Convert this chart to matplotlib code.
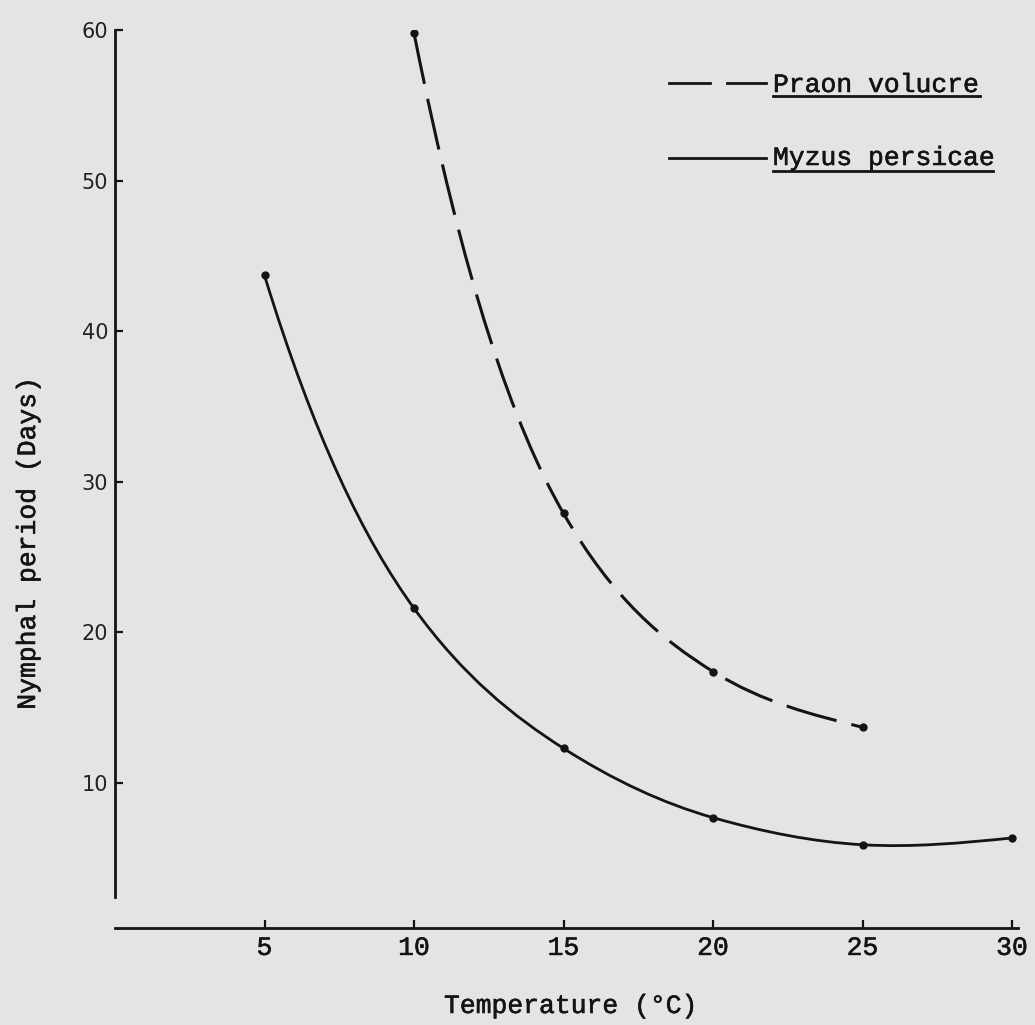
import numpy as np
import matplotlib.pyplot as plt
import matplotlib.patheffects as pe
from matplotlib.path import Path
from matplotlib.patches import PathPatch
from matplotlib.lines import Line2D

# temperatura (graus C) e periodo ninfal (dias)
temp_praon = [10, 15, 20, 25]
dias_praon = [59.8, 27.9, 17.4, 13.7]
temp_myzus = [5, 10, 15, 20, 25, 30]
dias_myzus = [43.7, 21.6, 12.3, 7.7, 5.9, 6.35]

xticks = [5, 10, 15, 20, 25, 30]
yticks = [10, 20, 30, 40, 50, 60]

tinta = '#141414'
papel = '#e4e4e2'
mono = 'Liberation Mono'
grosso = [pe.withStroke(linewidth=0.4, foreground=tinta)]  # tipo de maquina um pouco mais carregado


def curva_suave(x, y):
    # caminho bezier passando pelos pontos; tangentes estimadas em log(y)
    x = np.asarray(x, float)
    y = np.asarray(y, float)
    ly = np.log(y)
    d = np.diff(ly) / np.diff(x)
    m = np.zeros_like(ly)
    m[1:-1] = (ly[2:] - ly[:-2]) / (x[2:] - x[:-2])
    m[0] = (3 * d[0] - m[1]) / 2
    m[-1] = (3 * d[-1] - m[-2]) / 2
    m = m * y  # derivada em escala linear
    verts = [(x[0], y[0])]
    codes = [Path.MOVETO]
    for i in range(len(x) - 1):
        h = x[i + 1] - x[i]
        verts += [(x[i] + h / 3, y[i] + m[i] * h / 3),
                  (x[i + 1] - h / 3, y[i + 1] - m[i + 1] * h / 3),
                  (x[i + 1], y[i + 1])]
        codes += [Path.CURVE4] * 3
    return Path(verts, codes)


fig = plt.figure(figsize=(10.35, 10.25), dpi=100, facecolor=papel)
ax = fig.add_axes([115 / 1035, 1 - 933.6 / 1025, 903 / 1035, 903.6 / 1025])
ax.set_facecolor(papel)
ax.set_xlim(0, 30.2)
ax.set_ylim(0, 60)

# curvas
ax.add_patch(PathPatch(curva_suave(temp_praon, dias_praon), fill=False,
                       edgecolor=tinta, lw=2.2, linestyle=(0, (17, 5)),
                       capstyle='butt'))
ax.add_patch(PathPatch(curva_suave(temp_myzus, dias_myzus), fill=False,
                       edgecolor=tinta, lw=2.0))
ax.plot(temp_praon, dias_praon, 'o', color=tinta, ms=5, zorder=5)
ax.plot(temp_myzus, dias_myzus, 'o', color=tinta, ms=5, zorder=5)

# eixos
for s in ['top', 'right']:
    ax.spines[s].set_visible(False)
ax.spines['left'].set_linewidth(2.0)
ax.spines['bottom'].set_linewidth(2.0)
ax.spines['left'].set_color(tinta)
ax.spines['bottom'].set_color(tinta)
ax.spines['left'].set_bounds(2.4, 60)
ax.spines['bottom'].set_position(('data', 0.4))

ax.set_xticks(xticks)
ax.set_yticks(yticks)
ax.tick_params(axis='x', direction='in', length=6, width=1.6, color=tinta,
               pad=6, labelsize=19, labelcolor=tinta)
ax.tick_params(axis='y', direction='in', length=6, width=1.6, color=tinta,
               pad=5, labelsize=15, labelcolor='#222222')
for lab in ax.get_xticklabels():
    lab.set_family(mono)
    lab.set_path_effects(grosso)
for lab in ax.get_yticklabels():
    lab.set_family('DejaVu Sans')

# rotulos dos eixos
fig.text(571 / 1035, 1 - 1006 / 1025, 'Temperature (°C)', family=mono,
         fontsize=19, color=tinta, ha='center', va='center', path_effects=grosso)
fig.text(28 / 1035, 1 - 543 / 1025, 'Nymphal period (Days)', family=mono,
         fontsize=19, color=tinta, ha='center', va='center', rotation=90,
         path_effects=grosso)

# legenda sublinhada
def fx(px):
    return px / 1035


def fy(py):
    return 1 - py / 1025


fig.add_artist(Line2D([fx(669), fx(710)], [fy(83), fy(83)], color=tinta, lw=2.0))
fig.add_artist(Line2D([fx(727), fx(766)], [fy(83), fy(83)], color=tinta, lw=2.0))
fig.add_artist(Line2D([fx(669), fx(766)], [fy(158), fy(158)], color=tinta, lw=2.0))
fig.text(fx(773), fy(92), 'Praon volucre', family=mono, fontsize=19,
         color=tinta, ha='left', va='baseline', path_effects=grosso)
fig.text(fx(773), fy(165), 'Myzus persicae', family=mono, fontsize=19,
         color=tinta, ha='left', va='baseline', path_effects=grosso)
fig.add_artist(Line2D([fx(773), fx(980)], [fy(96), fy(96)], color=tinta, lw=2.0))
fig.add_artist(Line2D([fx(773), fx(993)], [fy(171), fy(171)], color=tinta, lw=2.0))

fig.savefig('out.png', dpi=100, facecolor=papel)
